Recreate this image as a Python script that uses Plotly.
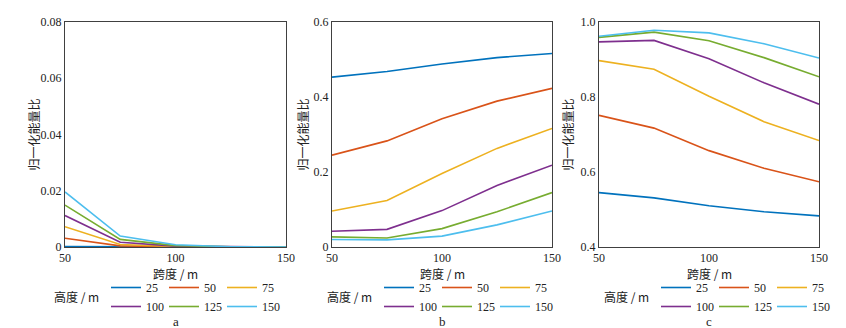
import plotly.graph_objects as go

# page body has an 8px default margin; the figure is sized to fill the rest of the window
OFF = 8
W, H = 846 - OFF, 328 - OFF

spans = [50, 75, 100, 125, 150]
heights = ["25", "50", "75", "100", "125", "150"]
colors = ["#0072BD", "#D95319", "#EDB120", "#7E2F8E", "#77AC30", "#4DBEEE"]

# panel a
a_h25 = [0.0002, 0.00005, 0.0, 0.0, 0.0]
a_h50 = [0.0031, 0.0004, 0.0001, 0.0, 0.0]
a_h75 = [0.0072, 0.0009, 0.0002, 0.0, 0.0]
a_h100 = [0.0112, 0.0017, 0.0003, 0.00005, 0.0]
a_h125 = [0.0149, 0.0027, 0.0005, 0.0001, 0.0]
a_h150 = [0.0196, 0.0039, 0.0008, 0.0001, 0.0]
# panel b
b_h25 = [0.453, 0.468, 0.488, 0.505, 0.516]
b_h50 = [0.245, 0.283, 0.342, 0.389, 0.423]
b_h75 = [0.096, 0.124, 0.196, 0.263, 0.316]
b_h100 = [0.042, 0.047, 0.097, 0.164, 0.218]
b_h125 = [0.027, 0.024, 0.049, 0.094, 0.145]
b_h150 = [0.020, 0.019, 0.029, 0.059, 0.096]
# panel c
c_h25 = [0.545, 0.531, 0.510, 0.494, 0.483]
c_h50 = [0.751, 0.717, 0.657, 0.610, 0.574]
c_h75 = [0.897, 0.874, 0.802, 0.734, 0.684]
c_h100 = [0.947, 0.951, 0.902, 0.838, 0.781]
c_h125 = [0.959, 0.973, 0.950, 0.905, 0.854]
c_h150 = [0.962, 0.978, 0.971, 0.942, 0.904]

panel_a = [a_h25, a_h50, a_h75, a_h100, a_h125, a_h150]
panel_b = [b_h25, b_h50, b_h75, b_h100, b_h125, b_h150]
panel_c = [c_h25, c_h50, c_h75, c_h100, c_h125, c_h150]

x_ticks = [50, 100, 150]
a_ticks = [0, 0.02, 0.04, 0.06, 0.08]
a_ticktext = ["0", "0.02", "0.04", "0.06", "0.08"]
b_ticks = [0, 0.2, 0.4, 0.6]
b_ticktext = ["0", "0.2", "0.4", "0.6"]
c_ticks = [0.4, 0.6, 0.8, 1.0]
c_ticktext = ["0.4", "0.6", "0.8", "1.0"]

panel_labels = ["a", "b", "c"]
x_title = "跨度 / m"
y_title = "归一化能量比"
legend_title = "高度 / m"

SERIF = "Liberation Serif, Times New Roman, serif"
CJK = "Noto Sans CJK SC"
TXT = "#222222"


def px(xw):
    return (xw - OFF) / W


def py(yw):
    return 1 - (yw - OFF) / H


panels = [
    dict(data=panel_a, ticks=a_ticks, ticktext=a_ticktext, yr=[0, 0.08], px=(65, 286), ytx=33, lc=169),
    dict(data=panel_b, ticks=b_ticks, ticktext=b_ticktext, yr=[0, 0.6], px=(332, 552), ytx=302, lc=442),
    dict(data=panel_c, ticks=c_ticks, ticktext=c_ticktext, yr=[0.4, 1.0], px=(599, 819), ytx=567, lc=719),
]

top_px, bot_px = 22, 247
ydom = [py(bot_px), py(top_px)]

fig = go.Figure()
annotations = []
layout = {}
STEP = 58

for p, pan in enumerate(panels):
    xa = "x" if p == 0 else f"x{p+1}"
    ya = "y" if p == 0 else f"y{p+1}"
    for i, (vals, col, h) in enumerate(zip(pan["data"], colors, heights)):
        colidx = i % 3
        leg_id = p * 3 + colidx + 1
        leg = "legend" if leg_id == 1 else f"legend{leg_id}"
        fig.add_trace(go.Scatter(
            x=spans, y=vals, mode="lines", name=h,
            line=dict(color=col, width=1.6),
            xaxis=xa, yaxis=ya, legend=leg, showlegend=True,
        ))
    # legends (3 columns, 2 rows)
    for c in range(3):
        leg_id = p * 3 + c + 1
        key = "legend" if leg_id == 1 else f"legend{leg_id}"
        xline = pan["lc"] - 58 + c * STEP
        layout[key] = dict(
            x=px(xline - 5), y=py(273), xanchor="left", yanchor="top",
            orientation="v", bgcolor="rgba(0,0,0,0)", borderwidth=0,
            font=dict(family=SERIF, size=12, color=TXT),
            itemwidth=30, tracegroupgap=0, traceorder="normal",
        )
    x0, x1 = pan["px"]
    axn = "" if p == 0 else str(p + 1)
    layout["xaxis" + axn] = dict(
        domain=[px(x0), px(x1)], range=[50, 150], anchor=ya, automargin=False,
        tickvals=x_ticks, ticktext=[str(v) for v in x_ticks],
        showline=True, mirror=True, linecolor="#404040", linewidth=1,
        showgrid=False, zeroline=False, ticks="",
        tickfont=dict(family=SERIF, size=12, color=TXT),
    )
    layout["yaxis" + axn] = dict(
        domain=ydom, range=pan["yr"], anchor=xa, automargin=False,
        tickvals=pan["ticks"], ticktext=pan["ticktext"],
        showline=True, mirror=True, linecolor="#404040", linewidth=1,
        showgrid=False, zeroline=False, ticks="",
        tickfont=dict(family=SERIF, size=12, color=TXT),
    )
    cx = (x0 + x1) / 2
    annotations.append(dict(text=y_title, x=px(pan["ytx"]), y=py((top_px + bot_px) / 2),
                            xref="paper", yref="paper", xanchor="center", yanchor="middle",
                            textangle=-90, showarrow=False,
                            font=dict(family=CJK, size=12, color=TXT)))
    annotations.append(dict(text=x_title, x=px(cx), y=py(273), xref="paper", yref="paper",
                            xanchor="center", yanchor="middle",
                            showarrow=False, font=dict(family=CJK, size=12, color=TXT)))
    annotations.append(dict(text=panel_labels[p], x=px(cx), y=py(321), xref="paper", yref="paper",
                            xanchor="center", yanchor="middle",
                            showarrow=False, font=dict(family=SERIF, size=13, color=TXT)))
    annotations.append(dict(text=legend_title, x=px(pan["lc"] - 68), y=py(296),
                            xref="paper", yref="paper", xanchor="right", yanchor="middle",
                            showarrow=False,
                            font=dict(family=CJK, size=12, color=TXT)))

fig.update_layout(
    width=W, height=H, margin=dict(l=0, r=0, t=0, b=0),
    paper_bgcolor="white", plot_bgcolor="white",
    annotations=annotations, **layout,
)

fig.write_html("out.html")
